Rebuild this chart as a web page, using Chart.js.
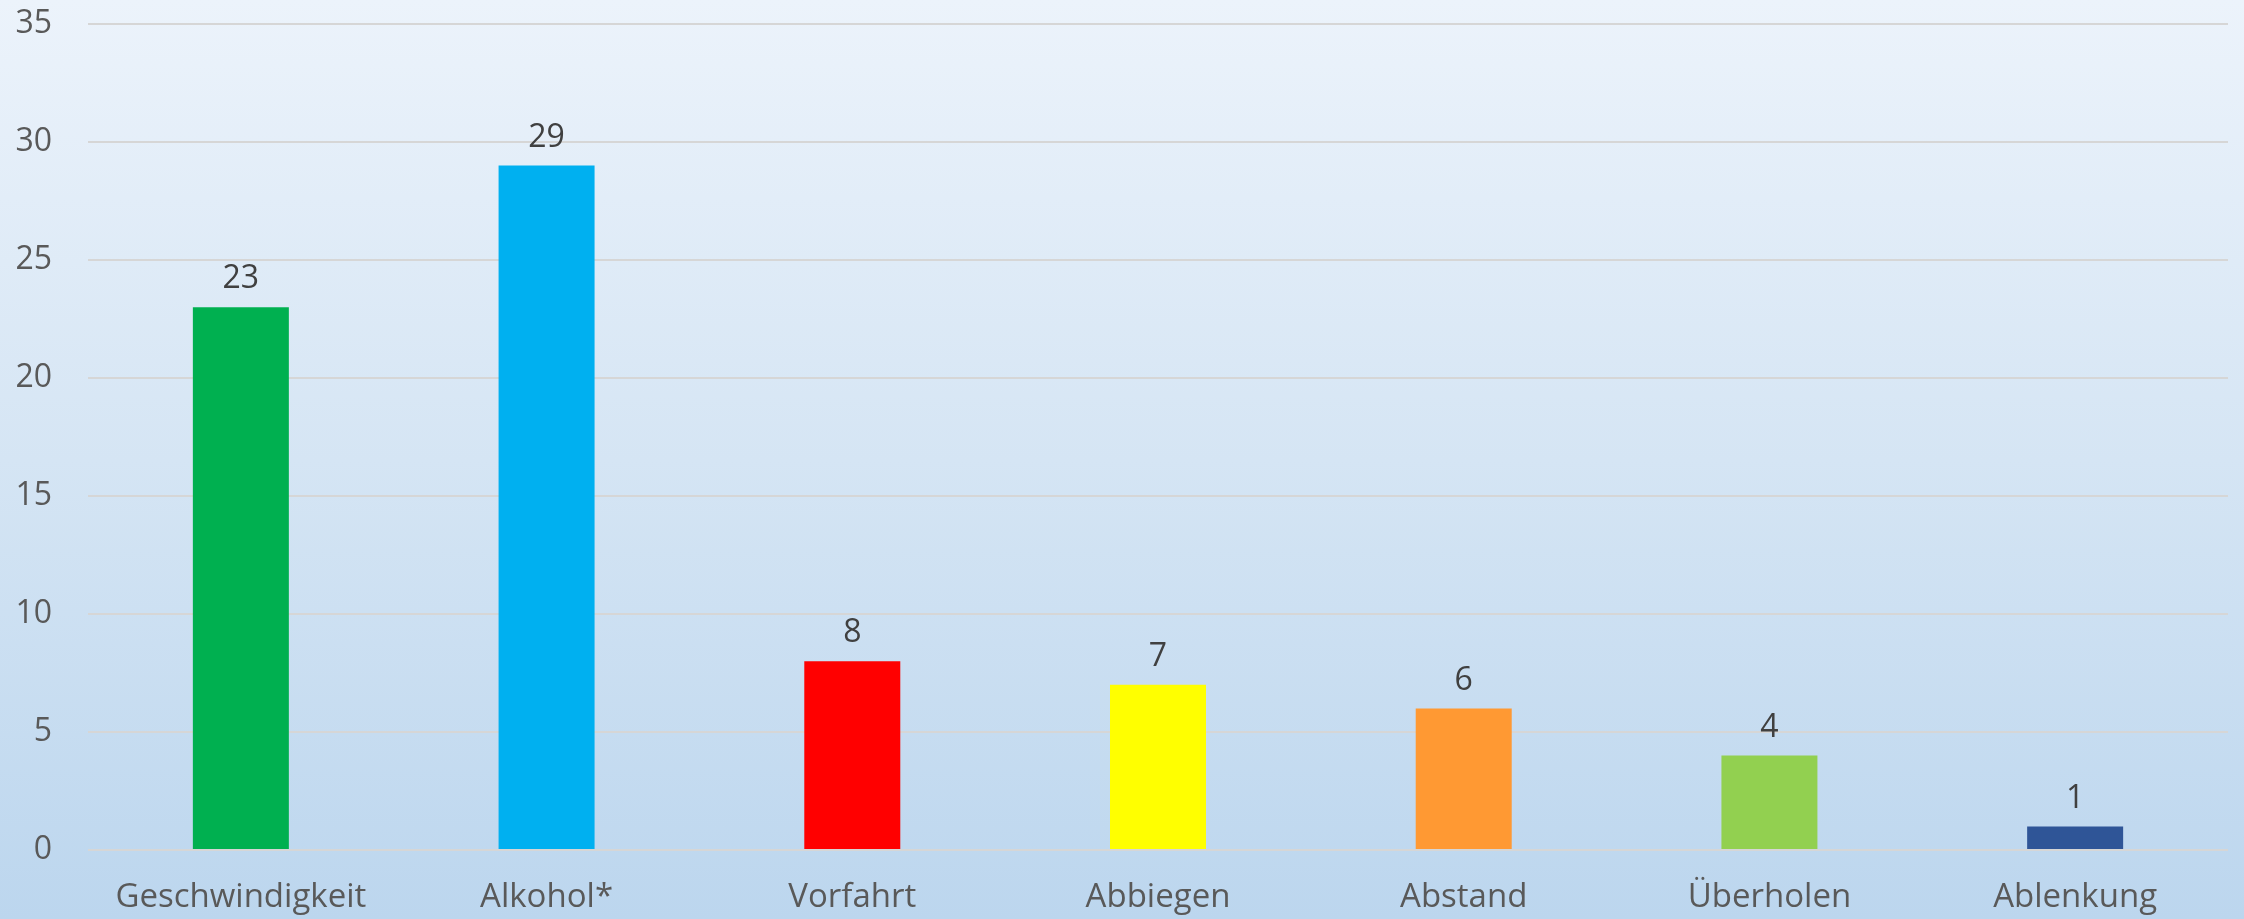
<!DOCTYPE html>
<html>
<head>
<meta charset="utf-8">
<script src="https://cdn.jsdelivr.net/npm/chart.js@4/dist/chart.umd.min.js"></script>
<style>
  html, body { margin: 0; padding: 0; }
  body { width: 2244px; height: 919px; background: linear-gradient(to bottom, #ECF3FB 0%, #D5E5F4 50%, #BCD6EE 100%); }
  #wrap { width: 2244px; height: 919px; position: relative; }
</style>
</head>
<body>
<div id="wrap"><canvas id="c" width="2244" height="919"></canvas></div>
<script>
const categories = ["Geschwindigkeit", "Alkohol*", "Vorfahrt", "Abbiegen", "Abstand", "Überholen", "Ablenkung"];
const values = [23, 29, 8, 7, 6, 4, 1];
const barColors = ["#00B050", "#00B0F0", "#FF0000", "#FFFF00", "#FF9933", "#92D050", "#2F5597"];
const yTicks = [0, 5, 10, 15, 20, 25, 30, 35];

const FONT = "'Open Sans', 'Liberation Sans', sans-serif";

const valueLabels = {
  id: 'valueLabels',
  afterDatasetsDraw(chart) {
    const ctx = chart.ctx;
    const meta = chart.getDatasetMeta(0);
    ctx.save();
    ctx.font = "32px " + FONT;
    ctx.fillStyle = "#404040";
    ctx.textAlign = "center";
    ctx.textBaseline = "bottom";
    meta.data.forEach((bar, i) => {
      ctx.fillText(String(values[i]), bar.x, bar.y - 12);
    });
    ctx.restore();
  }
};

new Chart(document.getElementById('c'), {
  type: 'bar',
  data: {
    labels: categories,
    datasets: [{
      data: values,
      backgroundColor: barColors,
      borderWidth: 0,
      categoryPercentage: 1,
      barPercentage: 0.314
    }]
  },
  options: {
    responsive: false,
    animation: false,
    devicePixelRatio: 1,
    layout: { padding: { top: 0, right: 16, left: 0, bottom: 0 } },
    plugins: { legend: { display: false }, tooltip: { enabled: false } },
    scales: {
      x: {
        grid: { display: false },
        border: { display: false },
        ticks: { color: "#595959", font: { size: 33, family: FONT }, padding: 20, maxRotation: 0, autoSkip: false },
        afterFit(scale) { scale.height = 69; }
      },
      y: {
        min: 0, max: 35,
        afterBuildTicks(scale) { scale.ticks = yTicks.map(v => ({ value: v })); },
        grid: { color: "#D6D6D6", lineWidth: 2, drawTicks: false },
        border: { display: false },
        ticks: { color: "#595959", font: { size: 32, family: FONT }, padding: 36 },
        afterFit(scale) { scale.width = 88; scale.paddingTop = 24; scale.paddingBottom = 0; }
      }
    }
  },
  plugins: [valueLabels]
});
</script>
</body>
</html>
